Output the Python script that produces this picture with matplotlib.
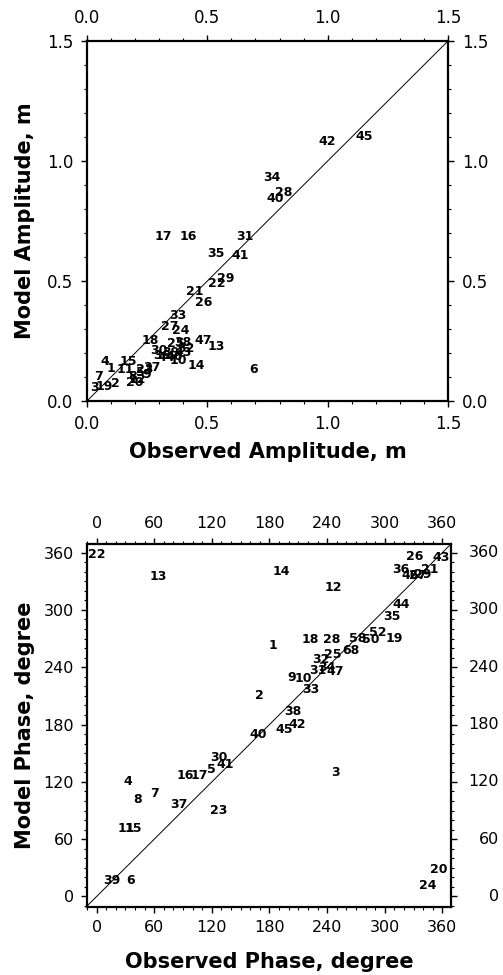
import matplotlib
matplotlib.use("Agg")
import matplotlib.pyplot as plt
from matplotlib.ticker import MultipleLocator
from matplotlib import transforms

# ---------------- data: amplitude (m) ----------------
amp_labels = ["45", "42", "34", "28", "40", "17", "16", "31", "35", "41",
              "29", "22", "21", "26", "33", "27", "24", "18", "47", "13",
              "14", "6", "30", "15", "4", "7", "2", "3", "19",
              "10", "25", "38", "39", "43", "44", "46", "36", "32",
              "1", "5", "8", "9", "11", "12", "20", "23", "37"]
amp_obs = [1.15, 0.996, 0.767, 0.816, 0.781, 0.317, 0.421, 0.656, 0.536, 0.636,
           0.577, 0.539, 0.449, 0.486, 0.379, 0.345, 0.39, 0.262, 0.483, 0.539,
           0.456, 0.691, 0.30, 0.172, 0.075, 0.047, 0.116, 0.03, 0.07,
           0.38, 0.37, 0.40, 0.35, 0.40, 0.33, 0.36, 0.31, 0.41,
           0.10, 0.22, 0.19, 0.25, 0.16, 0.21, 0.20, 0.24, 0.27]
amp_mod = [1.10, 1.08, 0.932, 0.868, 0.845, 0.685, 0.685, 0.685, 0.615, 0.605,
           0.511, 0.488, 0.455, 0.41, 0.356, 0.31, 0.295, 0.254, 0.254, 0.226,
           0.147, 0.133, 0.212, 0.164, 0.164, 0.104, 0.074, 0.057, 0.062,
           0.17, 0.24, 0.245, 0.20, 0.20, 0.18, 0.185, 0.19, 0.22,
           0.135, 0.12, 0.10, 0.11, 0.13, 0.09, 0.075, 0.13, 0.14]

# ---------------- data: phase (degree) ----------------
ph_labels = ["22", "13", "14", "12", "26", "43", "36", "21", "46", "27", "29",
             "44", "35", "52", "19", "58", "50", "68", "1", "18", "28", "25",
             "32", "9", "10", "33", "31", "34", "47", "38", "42", "45", "40",
             "2", "3", "30", "41", "5", "17", "16", "4", "7", "8", "37", "23",
             "11", "15", "39", "6", "20", "24"]
ph_obs = [0.6, 64, 192.3, 246, 331, 358.6, 317, 346.5, 326, 334, 340,
          317, 307.7, 292.7, 310, 272, 285, 265, 183.6, 222.4, 244.3, 246,
          233.9, 202.7, 214.8, 223.5, 230, 240, 248, 204.4, 208.5, 195.7, 168,
          169.8, 248.8, 127.5, 133.4, 119.5, 107.4, 91.8, 32.9, 60.6, 42.2, 85.9, 127.5,
          31, 38.5, 15.6, 35.3, 356, 344.7]
ph_mod = [358, 334.5, 340.4, 323, 356, 354.4, 342, 342, 336, 336, 337,
          305.5, 292.7, 276.5, 269.6, 270, 269.5, 257.7, 262.6, 268.9, 268.9, 253,
          248, 228.8, 227.7, 216.5, 237, 240, 236, 193.3, 179.8, 174.6, 169.4,
          210.5, 129.6, 145, 138, 132.7, 126.4, 126.4, 120.5, 108.3, 101.3, 96, 89.8,
          71, 71, 16.8, 16.8, 28.7, 11.2]

amp_ticks = [0.0, 0.5, 1.0, 1.5]
amp_ticklabels = ["0.0", "0.5", "1.0", "1.5"]
ph_ticks = [0, 60, 120, 180, 240, 300, 360]
ph_ticklabels = ["0", "60", "120", "180", "240", "300", "360"]

W, H = 503, 975
fig = plt.figure(figsize=(W / 100, H / 100), dpi=100)
fig.patch.set_facecolor("white")


def px_axes(l, t, r, b):
    return fig.add_axes([l / W, (H - b) / H, (r - l) / W, (b - t) / H])


def style_axes(ax, ticks, ticklabels, minor, fs, pad_y, pad_x, labelright=True):
    for s in ax.spines.values():
        s.set_linewidth(1.6)
    ax.set_xticks(ticks)
    ax.set_yticks(ticks)
    ax.set_xticklabels(ticklabels)
    ax.set_yticklabels(ticklabels)
    ax.xaxis.set_minor_locator(MultipleLocator(minor))
    ax.yaxis.set_minor_locator(MultipleLocator(minor))
    ax.tick_params(which="both", direction="out", top=True, right=True,
                   labeltop=True, labelright=labelright, labelsize=fs, width=1.0)
    ax.tick_params(which="major", length=4.5)
    ax.tick_params(which="minor", length=2.2, width=0.8)
    ax.tick_params(axis="y", which="major", pad=pad_y)
    ax.tick_params(axis="x", which="major", pad=pad_x)


# ---------------- top panel ----------------
ax1 = px_axes(87, 41, 448, 401)
ax1.set_xlim(0, 1.5)
ax1.set_ylim(0, 1.5)
ax1.plot([0, 1.5], [0, 1.5], color="black", lw=0.7)
for lab, x, y in zip(amp_labels, amp_obs, amp_mod):
    ax1.text(x, y, lab, ha="center", va="center", fontsize=9, fontweight="bold")
style_axes(ax1, amp_ticks, amp_ticklabels, 0.1, 12, 5.5, 5.5)

# ---------------- bottom panel ----------------
ax2 = px_axes(87, 544, 451, 907)
ax2.set_xlim(-10, 369)
ax2.set_ylim(-11, 369)
ax2.plot([-10, 369], [-10, 369], color="black", lw=0.7)
for lab, x, y in zip(ph_labels, ph_obs, ph_mod):
    ax2.text(x, y, lab, ha="center", va="center", fontsize=9, fontweight="bold")
style_axes(ax2, ph_ticks, ph_ticklabels, 10, 11.5, 5, 5, labelright=False)
# right-hand labels of the phase panel are right aligned near the figure edge
rtrans = transforms.blended_transform_factory(fig.transFigure, ax2.transData)
for v, lab in zip(ph_ticks, ph_ticklabels):
    fig.text(499 / W, v, lab, transform=rtrans, ha="right", va="center",
             fontsize=11.5)

# ---------------- axis titles ----------------
fig.text(267.5 / W, (H - 458) / H, "Observed Amplitude, m", ha="center", va="baseline",
         fontsize=15, fontweight="bold")
fig.text(25 / W, (H - 221) / H, "Model Amplitude, m", ha="center", va="center",
         rotation=90, fontsize=15, fontweight="bold")
fig.text(269 / W, (H - 968) / H, "Observed Phase, degree", ha="center", va="baseline",
         fontsize=15, fontweight="bold")
fig.text(25 / W, (H - 725) / H, "Model Phase, degree", ha="center", va="center",
         rotation=90, fontsize=15, fontweight="bold")

fig.savefig("out.png", dpi=100, facecolor="white")
